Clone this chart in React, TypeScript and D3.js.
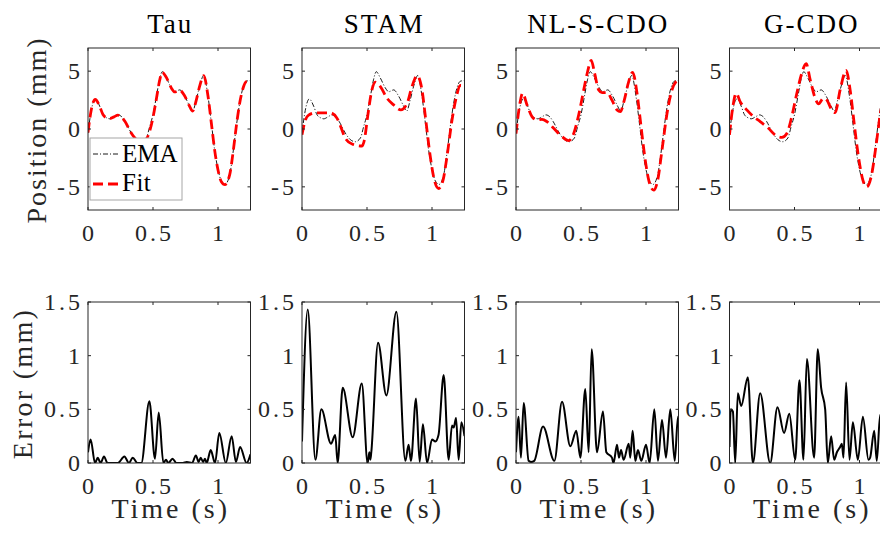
import React from 'react';
import * as d3 from 'd3';

const titles = ['Tau', 'STAM', 'NL-S-CDO', 'G-CDO'];
const xTicks = [0, 0.5, 1];
const xTickLabels = ['0', '0.5', '1'];
const posTicks = [-5, 0, 5];
const posTickLabels = ['-5', '0', '5'];
const errTicks = [0, 0.5, 1, 1.5];
const errTickLabels = ['0', '0.5', '1', '1.5'];

// EMA measured trajectory [t, mm]
const ema: [number, number][] = [
  [0, -0.35], [0.025, 1.6], [0.056, 2.6], [0.09, 1.97], [0.115, 1.24], [0.146, 0.95], [0.167, 0.88],
  [0.2, 1.05], [0.23, 1.22], [0.26, 1.05], [0.285, 0.66], [0.333, -0.35], [0.372, -0.92], [0.41, -1.1],
  [0.449, -0.78], [0.474, 0.2], [0.5, 1.24], [0.526, 2.8], [0.551, 4.3], [0.571, 4.95], [0.603, 4.4],
  [0.641, 3.55], [0.667, 3.22], [0.705, 3.38], [0.744, 2.83], [0.782, 1.97], [0.805, 1.55], [0.833, 2.54],
  [0.859, 3.7], [0.89, 4.62], [0.923, 2.83], [0.949, 0.52], [0.974, -1.8], [1.0, -3.5], [1.026, -4.5],
  [1.053, -4.8], [1.09, -3.96], [1.115, -2.1], [1.141, 0.23], [1.167, 2.25], [1.192, 3.55], [1.218, 4.13],
  [1.25, 4.19],
];

// Fitted trajectories [t, mm]
const fitTau: [number, number][] = [
  [0, -0.3], [0.025, 1.65], [0.056, 2.55], [0.09, 1.95], [0.115, 1.25], [0.146, 0.95], [0.167, 0.9],
  [0.2, 1.05], [0.23, 1.2], [0.26, 1.02], [0.285, 0.65], [0.333, -0.35], [0.372, -0.9], [0.41, -1.05],
  [0.449, -0.85], [0.474, -0.2], [0.5, 1.0], [0.526, 2.6], [0.551, 4.2], [0.571, 4.9], [0.603, 4.45],
  [0.641, 3.55], [0.667, 3.2], [0.705, 3.35], [0.744, 2.85], [0.782, 1.95], [0.805, 1.55], [0.833, 2.5],
  [0.859, 3.7], [0.89, 4.6], [0.923, 2.85], [0.949, 0.5], [0.974, -1.8], [1.0, -3.55], [1.026, -4.55],
  [1.053, -4.8], [1.09, -3.95], [1.115, -2.1], [1.141, 0.25], [1.167, 2.25], [1.192, 3.5], [1.218, 4.1],
  [1.25, 4.15],
];
const fitStam: [number, number][] = [
  [0, -0.5], [0.026, 0.78], [0.051, 1.2], [0.103, 1.4], [0.218, 1.4], [0.27, 0.92], [0.308, -0.1],
  [0.333, -0.8], [0.385, -1.3], [0.462, -1.47], [0.48, -0.95], [0.505, 1.07], [0.538, 3.38], [0.564, 4.05],
  [0.603, 3.67], [0.654, 2.66], [0.705, 2.08], [0.76, 1.65], [0.808, 2.2], [0.846, 3.67], [0.885, 4.6],
  [0.923, 3.38], [0.949, 1.07], [0.987, -2.4], [1.018, -4.42], [1.051, -5.14], [1.085, -4.42],
  [1.115, -2.4], [1.154, 0.78], [1.185, 2.66], [1.218, 3.76], [1.25, 3.7],
];
const fitNl: [number, number][] = [
  [0, -0.4], [0.026, 1.94], [0.051, 3.09], [0.085, 2.08], [0.123, 1.07], [0.162, 0.78], [0.2, 0.84],
  [0.238, 0.64], [0.29, 0.06], [0.354, -0.66], [0.405, -1.0], [0.444, -0.38], [0.482, 1.21],
  [0.521, 3.38], [0.551, 4.97], [0.579, 5.92], [0.605, 4.8], [0.636, 3.38], [0.662, 3.15], [0.7, 3.15],
  [0.738, 2.5], [0.777, 1.65], [0.803, 1.5], [0.833, 2.5], [0.867, 4.1], [0.897, 4.9], [0.931, 3.09],
  [0.956, 0.78], [0.987, -2.1], [1.021, -4.42], [1.059, -5.29], [1.09, -4.42], [1.123, -1.82],
  [1.162, 1.36], [1.2, 3.38], [1.25, 4.3],
];
const fitG: [number, number][] = [
  [0, -0.5], [0.026, 1.94], [0.051, 3.09], [0.082, 2.37], [0.133, 1.65], [0.185, 1.07], [0.236, 0.64],
  [0.3, 0.06], [0.351, -0.52], [0.403, -0.72], [0.441, -0.38], [0.479, 1.07], [0.518, 3.09],
  [0.556, 4.83], [0.59, 5.64], [0.621, 4.25], [0.659, 2.66], [0.685, 2.17], [0.723, 2.66], [0.749, 2.5],
  [0.787, 1.65], [0.813, 1.42], [0.851, 3.38], [0.897, 5.06], [0.928, 3.38], [0.959, 0.49],
  [0.992, -2.4], [1.026, -4.42], [1.056, -5.0], [1.095, -3.84], [1.126, -1.53], [1.159, 1.21],
  [1.2, 3.3], [1.25, 4.0],
];

// Absolute errors [t, mm]
const errTau: [number, number][] = [
  [0, 0.1], [0.02, 0.22], [0.054, 0], [0.075, 0.05], [0.097, 0], [0.123, 0.06], [0.15, 0], [0.23, 0],
  [0.28, 0.06], [0.315, 0], [0.344, 0.05], [0.38, 0], [0.41, 0], [0.472, 0.575], [0.515, 0.04],
  [0.544, 0.47], [0.58, 0], [0.6, 0.03], [0.618, 0], [0.65, 0.04], [0.68, 0], [0.73, 0], [0.76, 0.01],
  [0.8, 0], [0.83, 0.07], [0.851, 0.01], [0.867, 0.05], [0.885, 0.01], [0.9, 0.04], [0.913, 0],
  [0.944, 0.12], [0.977, 0], [1.01, 0.28], [1.06, 0], [1.105, 0.25], [1.138, 0.01], [1.17, 0.15],
  [1.22, 0], [1.25, 0.08],
];
const errStam: [number, number][] = [
  [0, 0.2], [0.044, 1.43], [0.103, 0.03], [0.149, 0.5], [0.223, 0.18], [0.256, 0.26], [0.274, 0],
  [0.313, 0.7], [0.39, 0.24], [0.46, 0.74], [0.505, 0], [0.518, 0.1], [0.526, 0.03], [0.533, 0.1],
  [0.585, 1.12], [0.649, 0.63], [0.726, 1.41], [0.795, 0.02], [0.82, 0.17], [0.838, 0.02], [0.877, 0.6],
  [0.905, 0.01], [0.93, 0.36], [0.962, 0], [1.0, 0.22], [1.026, 0.2], [1.05, 0.26], [1.09, 0.82],
  [1.128, 0.03], [1.154, 0.35], [1.167, 0.33], [1.185, 0.42], [1.205, 0.03], [1.226, 0.38], [1.25, 0.25],
];
const errNl: [number, number][] = [
  [0, 0.1], [0.02, 0.43], [0.038, 0.05], [0.059, 0.56], [0.097, 0.02], [0.115, 0.01], [0.14, 0.02],
  [0.208, 0.34], [0.295, 0.02], [0.354, 0.57], [0.418, 0.155], [0.464, 0.3], [0.495, 0.05],
  [0.533, 0.69], [0.559, 0.1], [0.582, 1.06], [0.623, 0.1], [0.669, 0.48], [0.695, 0.1], [0.738, 0.05],
  [0.75, 0], [0.777, 0.17], [0.792, 0.05], [0.808, 0.12], [0.828, 0.03], [0.867, 0.18], [0.879, 0.05],
  [0.897, 0.3], [0.918, 0.02], [0.938, 0.12], [0.964, 0.02], [1.0, 0.17], [1.028, 0], [1.064, 0.5],
  [1.092, 0.02], [1.123, 0.4], [1.154, 0.05], [1.187, 0.5], [1.221, 0.02], [1.246, 0.43], [1.25, 0.4],
];
const errG: [number, number][] = [
  [0, 0.15], [0.01, 0.5], [0.026, 0.48], [0.044, 0], [0.064, 0.65], [0.09, 0.53], [0.141, 0.8],
  [0.18, 0], [0.236, 0.65], [0.313, 0], [0.369, 0.52], [0.42, 0.28], [0.46, 0.46], [0.505, 0.03],
  [0.538, 0.77], [0.569, 0.03], [0.595, 0.97], [0.651, 0.05], [0.679, 1.06], [0.705, 0.7],
  [0.736, 0.5], [0.756, 0], [0.782, 0.25], [0.805, 0.03], [0.826, 0.1], [0.851, 0.15], [0.864, 0.18],
  [0.877, 0.05], [0.897, 0.75], [0.923, 0.03], [0.949, 0.38], [0.987, 0.03], [1.026, 0.43],
  [1.069, 0.03], [1.082, 0.05], [1.113, 0.3], [1.133, 0.02], [1.159, 0.45], [1.2, 0.1], [1.25, 0.3],
];

const fits = [fitTau, fitStam, fitNl, fitG];
const errs = [errTau, errStam, errNl, errG];

const W = 880;
const H = 534;
const panelLefts = [88, 302, 516, 729.5];
const PW = 162.5;
const topY = [48, 210];
const botY = [302, 463];
const FONT = "'Liberation Serif', 'Times New Roman', Times, serif";
const AX = '#262626';
const TL = 3;

const txt = (size: number, ls: number, color: string) => ({
  letterSpacing: ls + 'px',
  fontFamily: FONT,
  fontSize: size + 'px',
  fill: color,
});

export default function App() {
  const xDomain = [0, 1.25];
  const yPos = d3.scaleLinear().domain([-7, 7]).range([topY[1], topY[0]]);
  const yErr = d3.scaleLinear().domain([0, 1.5]).range([botY[1], botY[0]]);

  const tickLS = 3;
  const tickFS = 24;

  const renderAxes = (
    x: d3.ScaleLinear<number, number>,
    y: d3.ScaleLinear<number, number>,
    yTicks: number[],
    yLabels: string[],
    y0: number,
    y1: number,
    L: number,
    key: string,
    xLabelY: number,
  ) => (
    <g key={key}>
      <rect x={L} y={y0} width={PW} height={y1 - y0} fill="none" stroke={AX} strokeWidth={1} />
      {xTicks.map((t, i) => (
        <g key={'xt' + i}>
          <line x1={x(t)} x2={x(t)} y1={y1} y2={y1 - TL} stroke={AX} />
          <line x1={x(t)} x2={x(t)} y1={y0} y2={y0 + TL} stroke={AX} />
          <text x={x(t) + tickLS / 2} y={xLabelY} textAnchor="middle" style={txt(tickFS, tickLS, AX)}>
            {xTickLabels[i]}
          </text>
        </g>
      ))}
      {yTicks.map((v, i) => (
        <g key={'yt' + i}>
          <line x1={L} x2={L + TL} y1={y(v)} y2={y(v)} stroke={AX} />
          <line x1={L + PW} x2={L + PW - TL} y1={y(v)} y2={y(v)} stroke={AX} />
          <text x={L - 8 + tickLS} y={y(v) + 8} textAnchor="end" style={txt(tickFS, tickLS, AX)}>
            {yLabels[i]}
          </text>
        </g>
      ))}
    </g>
  );

  return (
    <svg
      width={W}
      height={H}
      viewBox={`0 0 ${W} ${H}`}
      style={{ position: 'absolute', left: 0, top: 0, background: '#fff' }}
    >
      <rect x={0} y={0} width={W} height={H} fill="#fff" />
      <defs>
        {panelLefts.map((L, i) => (
          <g key={'c' + i}>
            <clipPath id={'ct' + i}>
              <rect x={L} y={topY[0]} width={PW} height={topY[1] - topY[0]} />
            </clipPath>
            <clipPath id={'cb' + i}>
              <rect x={L} y={botY[0] - 2} width={PW} height={botY[1] - botY[0] + 2} />
            </clipPath>
          </g>
        ))}
      </defs>

      {panelLefts.map((L, i) => {
        const x = d3.scaleLinear().domain(xDomain).range([L, L + PW]);
        const linePos = d3
          .line<[number, number]>()
          .x((d) => x(d[0]))
          .y((d) => yPos(d[1]))
          .curve(d3.curveMonotoneX);
        const lineErr = d3
          .line<[number, number]>()
          .x((d) => x(d[0]))
          .y((d) => yErr(d[1]))
          .curve(d3.curveMonotoneX);
        const cx = L + PW / 2;
        return (
          <g key={'p' + i}>
            <text x={cx + 1} y={33} textAnchor="middle" style={txt(27, 2, '#000')}>
              {titles[i]}
            </text>
            <g clipPath={`url(#ct${i})`}>
              <path d={linePos(ema) || ''} fill="none" stroke="#000" strokeWidth={0.9} strokeDasharray="5,2,1,2" />
              <path d={linePos(fits[i]) || ''} fill="none" stroke="#ff0000" strokeWidth={2.8} strokeDasharray="10,5" />
            </g>
            {renderAxes(x, yPos, posTicks, posTickLabels, topY[0], topY[1], L, 'at' + i, 241)}
            <g clipPath={`url(#cb${i})`}>
              <path d={lineErr(errs[i]) || ''} fill="none" stroke="#000" strokeWidth={2} />
            </g>
            {renderAxes(x, yErr, errTicks, errTickLabels, botY[0], botY[1], L, 'ab' + i, 494)}
            <text x={cx + 1.5} y={518} textAnchor="middle" style={txt(28, 3, AX)}>
              Time (s)
            </text>
          </g>
        );
      })}

      {/* Y-axis labels */}
      <text
        transform={`translate(46,${(topY[0] + topY[1]) / 2 + 1}) rotate(-90)`}
        textAnchor="middle"
        style={txt(28, 2, AX)}
      >
        Position (mm)
      </text>
      <text
        transform={`translate(32,${(botY[0] + botY[1]) / 2 + 1}) rotate(-90)`}
        textAnchor="middle"
        style={txt(28, 2.3, AX)}
      >
        Error (mm)
      </text>

      {/* Legend */}
      <g>
        <rect x={90} y={138} width={92} height={62} fill="#fff" stroke="#a6a6a6" strokeWidth={1} />
        <line x1={93} x2={120} y1={154} y2={154} stroke="#000" strokeWidth={0.9} strokeDasharray="5,2,1,2" />
        <text x={122} y={162} style={txt(25, 0, '#000')}>EMA</text>
        <line x1={93} x2={120} y1={184} y2={184} stroke="#ff0000" strokeWidth={2.8} strokeDasharray="10,5" />
        <text x={122} y={191} style={txt(25, 0.5, '#000')}>Fit</text>
      </g>
    </svg>
  );
}
